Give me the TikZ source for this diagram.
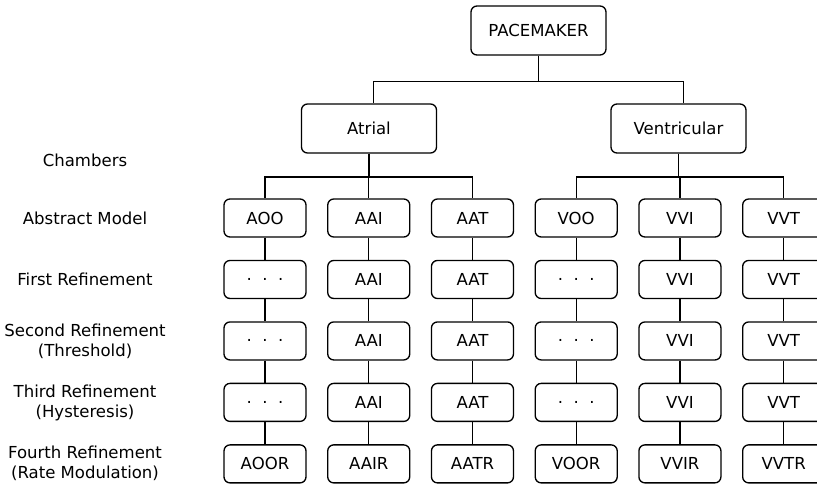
\documentclass[tikz,border=0pt]{standalone}
\usepackage{fontspec}
\setmainfont{DejaVu Sans}
\usetikzlibrary{positioning}

\begin{document}
\begin{tikzpicture}[x=0.75pt, y=-0.75pt, line width=1pt,
    node distance=16.6pt and 15.3pt,
    font=\fontsize{12.4}{15}\selectfont,
    topbox/.style={draw, rounded corners=4.5pt, minimum width=101.25pt, minimum height=36.75pt},
    modebox/.style={draw, rounded corners=4.5pt, minimum width=61.5pt, minimum height=28.5pt},
    rowlabel/.style={align=center}]
    \useasboundingbox (0,0) rectangle (817,487);

    % Top of the tree
    \node[topbox] (pacemaker) at (538.5,30.5) {PACEMAKER};
    \node[topbox] (atrial) at (369,128.5) {Atrial};
    \node[topbox] (ventricular) at (678.5,128.5) {Ventricular};

    % Abstract models
    \node[modebox] (aoo1) at (265,218) {AOO};
    \node[modebox, right=of aoo1] (aai1) {AAI};
    \node[modebox, right=of aai1] (aat1) {AAT};
    \node[modebox, right=of aat1] (voo1) {VOO};
    \node[modebox, right=of voo1] (vvi1) {VVI};
    \node[modebox, right=of vvi1] (vvt1) {VVT};

    % First refinement
    \node[modebox, below=of aoo1] (aoo2) {.~~.~~.};
    \node[modebox, below=of aai1] (aai2) {AAI};
    \node[modebox, below=of aat1] (aat2) {AAT};
    \node[modebox, below=of voo1] (voo2) {.~~.~~.};
    \node[modebox, below=of vvi1] (vvi2) {VVI};
    \node[modebox, below=of vvt1] (vvt2) {VVT};

    % Second refinement
    \node[modebox, below=of aoo2] (aoo3) {.~~.~~.};
    \node[modebox, below=of aai2] (aai3) {AAI};
    \node[modebox, below=of aat2] (aat3) {AAT};
    \node[modebox, below=of voo2] (voo3) {.~~.~~.};
    \node[modebox, below=of vvi2] (vvi3) {VVI};
    \node[modebox, below=of vvt2] (vvt3) {VVT};

    % Third refinement
    \node[modebox, below=of aoo3] (aoo4) {.~~.~~.};
    \node[modebox, below=of aai3] (aai4) {AAI};
    \node[modebox, below=of aat3] (aat4) {AAT};
    \node[modebox, below=of voo3] (voo4) {.~~.~~.};
    \node[modebox, below=of vvi3] (vvi4) {VVI};
    \node[modebox, below=of vvt3] (vvt4) {VVT};

    % Fourth refinement
    \node[modebox, below=of aoo4] (aoo5) {AOOR};
    \node[modebox, below=of aai4] (aai5) {AAIR};
    \node[modebox, below=of aat4] (aat5) {AATR};
    \node[modebox, below=of voo4] (voo5) {VOOR};
    \node[modebox, below=of vvi4] (vvi5) {VVIR};
    \node[modebox, below=of vvt4] (vvt5) {VVTR};

    % Labels on the left
    \node[rowlabel] (chambers) at (85,160) {Chambers};
    \node[rowlabel] (abstract) at (85,218) {Abstract Model};
    \node[rowlabel] (first) at (85,279.5) {First Refinement};
    \node[rowlabel] (second) at (85,341) {Second Refinement\\(Threshold)};
    \node[rowlabel] (third) at (85,402.5) {Third Refinement\\(Hysteresis)};
    \node[rowlabel] (fourth) at (85,463) {Fourth Refinement\\(Rate Modulation)};

    % Tree lines
    \draw (pacemaker.south) -- ++(0,-19.3pt) -| ([xshift=3.5pt]atrial.north);
    \draw (pacemaker.south) -- ++(0,-19.3pt) -| ([xshift=3.5pt]ventricular.north);
    \draw (atrial.south) -- ++(0,-17.5pt) -| (aoo1.north);
    \draw (atrial.south) -- ++(0,-17.5pt) -| (aai1.north);
    \draw (atrial.south) -- ++(0,-17.5pt) -| (aat1.north);
    \draw (ventricular.south) -- ++(0,-17.5pt) -| (voo1.north);
    \draw (ventricular.south) -- ++(0,-17.5pt) -| (vvi1.north);
    \draw (ventricular.south) -- ++(0,-17.5pt) -| (vvt1.north);

    % Refinement lines
    \draw (aoo1) -- (aoo2) -- (aoo3) -- (aoo4) -- (aoo5);
    \draw (aai1) -- (aai2) -- (aai3) -- (aai4) -- (aai5);
    \draw (aat1) -- (aat2) -- (aat3) -- (aat4) -- (aat5);
    \draw (voo1) -- (voo2) -- (voo3) -- (voo4) -- (voo5);
    \draw (vvi1) -- (vvi2) -- (vvi3) -- (vvi4) -- (vvi5);
    \draw (vvt1) -- (vvt2) -- (vvt3) -- (vvt4) -- (vvt5);
\end{tikzpicture}
\end{document}
